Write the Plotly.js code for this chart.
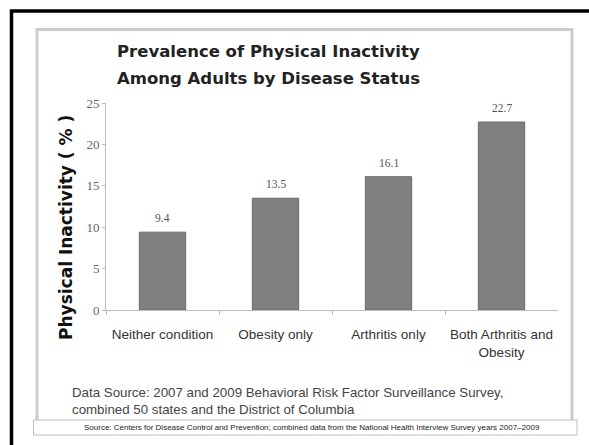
<!DOCTYPE html>
<html>
<head>
<meta charset="utf-8">
<script src="https://cdn.plot.ly/plotly-3.0.1.min.js"></script>
<style>html,body{margin:0;padding:0;background:#fff;}#chart{width:589px;height:445px;}</style>
</head>
<body>
<div id="chart"></div>
<script>
var categories = ["Neither condition", "Obesity only", "Arthritis only", "Both Arthritis and<br>Obesity"];
var inactivity = [9.4, 13.5, 16.1, 22.7];
var valueLabels = ["9.4", "13.5", "16.1", "22.7"];
var yTicks = [0, 5, 10, 15, 20, 25];

var W = 589, H = 445;
function px(x){ return x / W; }
function py(y){ return 1 - y / H; }

var trace = {
  type: 'bar',
  x: categories,
  y: inactivity,
  marker: {color: '#808080', line: {color: '#6a6a6a', width: 1}},
  hoverinfo: 'none'
};

var valueAnnotations = categories.map(function(c, i){
  return {xref: 'x', yref: 'y', x: c, y: inactivity[i], text: valueLabels[i], showarrow: false,
    yanchor: 'bottom', yshift: 6,
    font: {family: 'Liberation Serif, Times New Roman, serif', size: 11.5, color: '#555'}};
});

var layout = {
  width: W, height: H,
  margin: {l: 0, r: 0, t: 0, b: 0},
  paper_bgcolor: '#fff', plot_bgcolor: '#fff',
  showlegend: false,
  bargap: 0.59,
  xaxis: {
    domain: [px(106), px(558)],
    showline: true, linecolor: '#bdbdbd', linewidth: 1,
    ticks: 'outside', tickson: 'boundaries', ticklen: 4, tickcolor: '#bdbdbd',
    tickangle: 0, automargin: false, ticklabelstandoff: 12,
    tickfont: {family: 'Liberation Sans, Arial, sans-serif', size: 13.5, color: '#333'},
    showgrid: false, zeroline: false, fixedrange: true
  },
  yaxis: {
    domain: [py(310), py(103)],
    range: [0, 25],
    tickvals: yTicks,
    showline: true, linecolor: '#bdbdbd', linewidth: 1,
    ticks: 'outside', ticklen: 3, tickcolor: '#bdbdbd',
    tickfont: {family: 'Liberation Serif, Times New Roman, serif', size: 13, color: '#666'},
    showgrid: false, zeroline: false, fixedrange: true, automargin: false
  },
  shapes: [
    {type: 'rect', xref: 'paper', yref: 'paper', x0: px(11.5), x1: px(620), y0: py(480), y1: py(11), line: {color: '#000', width: 3.5}, fillcolor: 'rgba(0,0,0,0)', layer: 'below'},
    {type: 'rect', xref: 'paper', yref: 'paper', x0: px(37), x1: px(572), y0: py(430), y1: py(29.5), line: {color: '#cccccc', width: 3}, fillcolor: 'rgba(0,0,0,0)', layer: 'below'},
    {type: 'rect', xref: 'paper', yref: 'paper', x0: px(33.5), x1: px(577), y0: py(435), y1: py(420), line: {color: '#bfbfbf', width: 1}, fillcolor: '#ffffff', layer: 'above'}
  ],
  annotations: [
    {xref: 'paper', yref: 'paper', x: px(268), y: py(51), xanchor: 'center', yanchor: 'middle', showarrow: false,
     text: '<b>Prevalence of Physical Inactivity</b>',
     font: {family: 'DejaVu Sans, sans-serif', size: 16.5, color: '#222'}},
    {xref: 'paper', yref: 'paper', x: px(268), y: py(78), xanchor: 'center', yanchor: 'middle', showarrow: false,
     text: '<b>Among Adults by Disease Status</b>',
     font: {family: 'DejaVu Sans, sans-serif', size: 16.5, color: '#222'}},
    {xref: 'paper', yref: 'paper', x: px(66), y: py(228), xanchor: 'center', yanchor: 'middle', showarrow: false, textangle: -90,
     text: '<b>Physical Inactivity ( % )</b>',
     font: {family: 'DejaVu Sans, sans-serif', size: 17, color: '#111'}},
    {xref: 'paper', yref: 'paper', x: px(70), y: py(401), xanchor: 'left', yanchor: 'middle', showarrow: false, align: 'left',
     text: 'Data Source: 2007 and 2009 Behavioral Risk Factor Surveillance Survey,<br>combined 50 states and the District of Columbia',
     font: {family: 'Liberation Sans, Arial, sans-serif', size: 13.3, color: '#444'}},
    {xref: 'paper', yref: 'paper', x: px(312), y: py(427.5), xanchor: 'center', yanchor: 'middle', showarrow: false,
     text: 'Source: Centers for Disease Control and Prevention; combined data from the National Health Interview Survey years 2007\u20132009',
     font: {family: 'Liberation Sans, Arial, sans-serif', size: 8, color: '#222'}}
  ].concat(valueAnnotations)
};

Plotly.newPlot('chart', [trace], layout, {displayModeBar: false, staticPlot: true});
</script>
</body>
</html>
